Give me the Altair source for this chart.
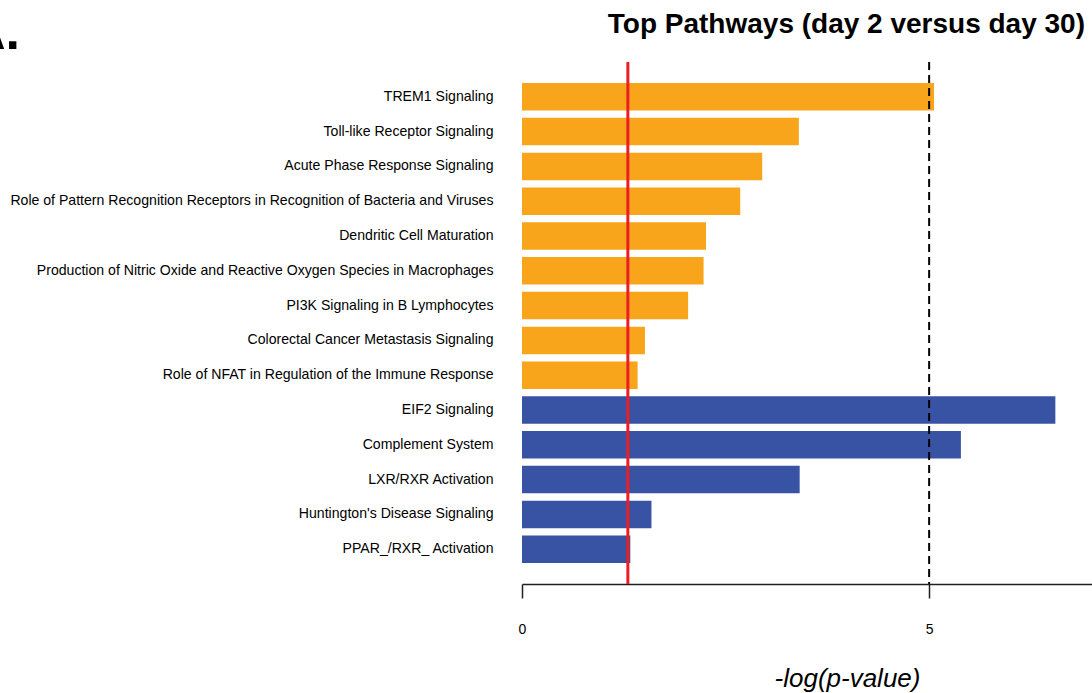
import altair as alt
import pandas as pd

# Pathway enrichment, -log(p-value)
pathways = [
    "TREM1 Signaling",
    "Toll-like Receptor Signaling",
    "Acute Phase Response Signaling",
    "Role of Pattern Recognition Receptors in Recognition of Bacteria and Viruses",
    "Dendritic Cell Maturation",
    "Production of Nitric Oxide and Reactive Oxygen Species in Macrophages",
    "PI3K Signaling in B Lymphocytes",
    "Colorectal Cancer Metastasis Signaling",
    "Role of NFAT in Regulation of the Immune Response",
    "EIF2 Signaling",
    "Complement System",
    "LXR/RXR Activation",
    "Huntington's Disease Signaling",
    "PPAR_/RXR_ Activation",
]
neg_log_p = [5.06, 3.40, 2.95, 2.68, 2.26, 2.23, 2.04, 1.51, 1.42,
             6.55, 5.39, 3.41, 1.59, 1.33]
group = ["up"] * 9 + ["down"] * 5

significance_cutoff = [1.3]
strong_cutoff = [5]

title_text = ["Top Pathways (day 2 versus day 30)"]
panel_tag = ["A."]

FONT = "Liberation Sans"
INK = "#231F20"

bars_df = pd.DataFrame({"pathway": pathways, "value": neg_log_p, "group": group})

x_scale = alt.Scale(domain=[0, 7], nice=False, zero=True)

bars = alt.Chart(bars_df).mark_bar().encode(
    y=alt.Y(
        "pathway:N",
        sort=pathways,
        scale=alt.Scale(paddingInner=0.21, paddingOuter=0.605),
        axis=alt.Axis(
            title=None, domain=False, ticks=False, labelPadding=29,
            labelFontSize=14.1, labelLimit=600, labelColor="black",
            labelFont=FONT,
        ),
    ),
    x=alt.X(
        "value:Q",
        scale=x_scale,
        axis=alt.Axis(
            values=[0, 5], format="d", grid=False, labelFlush=False,
            tickSize=14, tickWidth=1.5, tickColor=INK,
            domainWidth=1.5, domainColor=INK,
            labelFontSize=14, labelPadding=24, labelColor="black",
            labelFont=FONT,
            title="-log(p-value)", titleFont=FONT, titleFontSize=26,
            titleFontStyle="italic", titleFontWeight="normal",
            titleColor="black", titleX=325, titleY=102,
            titleAlign="center", titleBaseline="alphabetic",
        ),
    ),
    color=alt.Color(
        "group:N",
        scale=alt.Scale(domain=["up", "down"], range=["#F8A51C", "#3953A4"]),
        legend=None,
    ),
)

red_rule = alt.Chart(pd.DataFrame({"cut": significance_cutoff})).mark_rule(
    color="#EE1D23", strokeWidth=3
).encode(x=alt.X("cut:Q", scale=x_scale))

dash_rule = alt.Chart(pd.DataFrame({"cut": strong_cutoff})).mark_rule(
    color="black", strokeWidth=2, strokeDash=[8, 5]
).encode(x=alt.X("cut:Q", scale=x_scale))

title = alt.Chart(pd.DataFrame({"t": title_text})).mark_text(
    font=FONT, fontSize=28, fontWeight="bold", color="black",
    align="right", baseline="alphabetic",
).encode(text="t:N", x=alt.value(563), y=alt.value(-29.5))

tag = alt.Chart(pd.DataFrame({"t": panel_tag})).mark_text(
    font=FONT, fontSize=52, fontWeight="bold", color="black",
    align="right", baseline="alphabetic",
).encode(text="t:N", x=alt.value(-502), y=alt.value(-13.5))

chart = alt.layer(bars, red_rule, dash_rule, title, tag).properties(
    width=570,
    height=522,
    autosize=alt.AutoSizeParams(type="none"),
    padding={"left": 522, "top": 62, "right": 0, "bottom": 109},
    background="white",
).configure_view(stroke=None)

chart.save("out.html", embed_options={"renderer": "svg", "actions": False})
